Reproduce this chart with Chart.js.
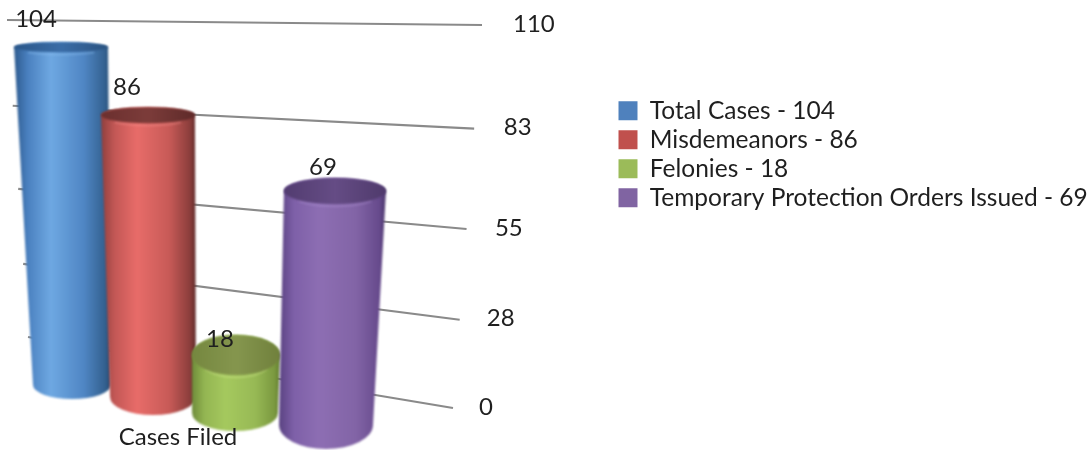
<!DOCTYPE html>
<html><head><meta charset="utf-8">
<style>html,body{margin:0;padding:0;background:#fff}#wrap{width:1089px;height:450px}</style>
<script src="https://cdn.jsdelivr.net/npm/chart.js@4"></script>
</head><body><div id="wrap"><canvas id="c" width="1089" height="450"></canvas></div>
<script>
const categories = ['Cases Filed'];
const seriesNames = ['Total Cases', 'Misdemeanors', 'Felonies', 'Temporary Protection Orders Issued'];
const totalCases = [104];
const misdemeanors = [86];
const felonies = [18];
const protectionOrders = [69];
const tickValues = [0, 28, 55, 83, 110];
const legendColors = ['#4f81bd', '#c0504d', '#9bbb59', '#8064a2'];

/* perspective of the 3D view */
const FONT = 'Lato, Carlito, sans-serif';
const INK = '#1f1f1f';
const CONVERGE = 1.14;
const proj = t => t / (t + (1 - t) * CONVERGE);
/* per-cylinder depth offsets relative to the library's bar element */
const depth = [
  {dx:20, sw:.844, dy:-22, sy:.94,  lean:-11.7, widen:17,   ry0:14, ry1:4.4,  lx:-25, ly:-28},
  {dx:17, sw:.93,  dy:-10, sy:.97,  lean:-6.6,  widen:10.5, ry0:18, ry1:4.8,  lx:-21, ly:-28},
  {dx:15, sw:.93,  dy:6,   sy:1.034,lean:7,     widen:14,   ry0:18, ry1:31.6, lx:-16, ly:-16},
  {dx:22, sw:1.017,dy:18,  sy:1.025,lean:15,    widen:13.4, ry0:24, ry1:5.5,  lx:-12, ly:-24}
];
const shades = [
  {body:['#2d5a8e','#4a80bf','#6ea8e2','#4f86c4','#33608f','#234a72'], cap:['#2a5688','#3a6ca6','#2a5280'], rim:'#8cc0f0'},
  {body:['#8f3f3d','#c25755','#e86c69','#c75a57','#8a3d3b','#5e2a29'], cap:['#6b2f2e','#7c3c3a','#5e2a29'], rim:'#f58f8c'},
  {body:['#6f8c3a','#93b552','#a5c95e','#97b955','#7a983f','#5f7a2e'], cap:['#75873f','#85964e','#70803c'], rim:'#cfe88a'},
  {body:['#5a4382','#7e60a8','#8d6eb3','#8264a6','#664a8c','#4a366b'], cap:['#523c70','#654c85','#4f3a6c'], rim:'#ab90d0'}
];
const stops = [0, .14, .38, .72, .94, 1];

class PerspectiveScale extends Chart.LinearScale {
  static id = 'perspective';
  fraction(v) { return proj((v - this.min) / (this.max - this.min)); }
  getPixelForValue(v) {
    return v === null ? NaN : this.bottom - this.fraction(v) * (this.bottom - this.top);
  }
  getValueForPixel(p) {
    const f = (this.bottom - p) / (this.bottom - this.top);
    const t = f * CONVERGE / (1 - f + f * CONVERGE);
    return this.min + t * (this.max - this.min);
  }
  _computeLabelItems(area) {
    const items = super._computeLabelItems(area);
    items.forEach((it, i) => {
      const f = this.fraction(this.ticks[i].value);
      it.options.translation[0] = 479 + 34 * f;
      it.options.textAlign = 'left';
    });
    return items;
  }
}
Chart.register(PerspectiveScale);

function cylinder(ctx, el, i, yScale) {
  const d = depth[i], s = shades[i];
  const f = (el.base - el.y) / (yScale.bottom - yScale.top);
  const bx = el.x + d.dx, bw = el.width * d.sw, by = el.base + d.dy;
  const tx = bx + d.lean * f, tw = bw + d.widen * f, ty = by - d.sy * (el.base - el.y);
  const bry = d.ry0, tr = d.ry0 + (d.ry1 - d.ry0) * f;
  ctx.save();
  ctx.filter = 'blur(0.8px)';
  const x0 = Math.min(bx - bw / 2, tx - tw / 2), x1 = Math.max(bx + bw / 2, tx + tw / 2);
  const g = ctx.createLinearGradient(x0, 0, x1, 0);
  s.body.forEach((c, k) => g.addColorStop(stops[k], c));
  ctx.beginPath();
  ctx.ellipse(bx, by, bw / 2, bry, 0, 0, Math.PI);
  ctx.lineTo(tx - tw / 2, ty);
  ctx.ellipse(tx, ty, tw / 2, tr, 0, Math.PI, 2 * Math.PI);
  ctx.closePath();
  ctx.fillStyle = g;
  ctx.fill();
  // highlight band under the rim
  ctx.save();
  ctx.clip();
  ctx.beginPath();
  ctx.ellipse(tx, ty + 2, tw / 2 - 6, tr, 0, .2 * Math.PI, .8 * Math.PI);
  ctx.strokeStyle = s.rim;
  ctx.globalAlpha = .35;
  ctx.lineWidth = 3;
  ctx.stroke();
  ctx.restore();
  // top cap
  const cg = ctx.createLinearGradient(tx - tw / 2, 0, tx + tw / 2, 0);
  s.cap.forEach((c, k) => cg.addColorStop(k / 2, c));
  ctx.beginPath();
  ctx.ellipse(tx, ty, tw / 2, tr, 0, 0, 2 * Math.PI);
  ctx.fillStyle = cg;
  ctx.fill();
  ctx.restore();
  return {x: tx + d.lx, y: ty + d.ly};
}

const scene = {
  id: 'scene',
  beforeDraw(chart) {
    chart.legend.left = 614;
    chart.legend.top = 94;
  },
  beforeDatasetsDraw(chart) {
    const {ctx} = chart, y = chart.scales.y;
    // slanted wall grid lines, from the scale's own ticks
    ctx.save();
    ctx.strokeStyle = '#8a8a8a';
    ctx.lineWidth = 2.2;
    y.ticks.forEach(t => {
      const f = y.fraction(t.value);
      const yr = y.getPixelForValue(t.value) + 1;
      ctx.beginPath();
      ctx.moveTo(28 - 21 * f, 337 - 317 * f);
      ctx.lineTo(453 + 29 * f, yr);
      ctx.stroke();
    });
    ctx.restore();
    // cylinders then labels
    const labels = [];
    chart.data.datasets.forEach((ds, i) => {
      const el = chart.getDatasetMeta(i).data[0];
      labels.push({p: cylinder(ctx, el, i, y), v: ds.data[0]});
    });
    ctx.save();
    ctx.font = '24px ' + FONT;
    ctx.fillStyle = INK;
    ctx.textAlign = 'center';
    ctx.textBaseline = 'middle';
    labels.forEach(l => ctx.fillText(String(l.v), l.p.x, l.p.y));
    ctx.restore();
    return false;
  }
};

const seriesValues = [totalCases, misdemeanors, felonies, protectionOrders];
const chart = new Chart(document.getElementById('c'), {
  type: 'bar',
  data: {
    labels: categories,
    datasets: seriesNames.map((n, i) => ({label: n, data: seriesValues[i], backgroundColor: legendColors[i],
      categoryPercentage: 1, barPercentage: 1.1}))
  },
  plugins: [scene],
  options: {
    responsive: false,
    animation: false,
    layout: {padding: {top: 24, left: 10, right: 0, bottom: 0}},
    plugins: {
      tooltip: {enabled: false},
      legend: {
        position: 'right',
        align: 'start',
        labels: {
          boxWidth: 19, boxHeight: 19, padding: 4.5,
          color: INK,
          font: {family: FONT, size: 24.5},
          generateLabels(c) {
            return c.data.datasets.map((ds, i) => ({
              text: ds.label + ' - ' + ds.data[0],
              fillStyle: ds.backgroundColor, strokeStyle: ds.backgroundColor,
              lineWidth: 0, fontColor: INK, datasetIndex: i
            }));
          }
        }
      }
    },
    scales: {
      x: {
        grid: {display: false, drawTicks: false},
        border: {display: false},
        afterFit(a) { a.height = 43; },
        ticks: {color: INK, font: {family: FONT, size: 24}, padding: 16, z: 1}
      },
      y: {
        type: 'perspective',
        position: 'right',
        min: 0, max: 110,
        grid: {display: false, drawTicks: false},
        border: {display: false},
        afterBuildTicks(a) { a.ticks = tickValues.map(v => ({value: v})); },
        afterFit(a) { a.width = 1089 - ((a.chart.legend && a.chart.legend.width) || 450) - 346; },
        ticks: {color: INK, font: {family: FONT, size: 24}, padding: 0}
      }
    }
  }
});
chart.update();
</script></body></html>
